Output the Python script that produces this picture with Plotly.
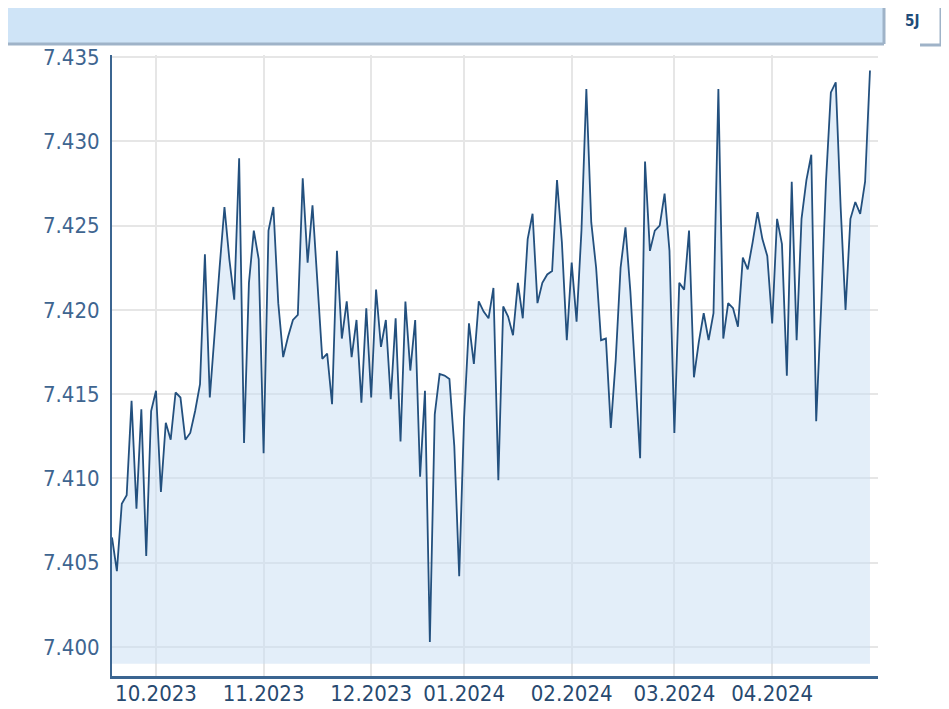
import pandas as pd
import plotly.graph_objects as go

# ---- data ----
START = "2023-09-19"
END = "2024-04-30"
HOLIDAYS = ["2023-12-25", "2023-12-26", "2024-01-01", "2024-03-29", "2024-04-01"]

values = [
    7.4065, 7.4045, 7.4085, 7.4090, 7.4146, 7.4082, 7.4141, 7.4054, 7.4140, 7.4152,
    7.4092, 7.4133, 7.4123, 7.4151, 7.4148, 7.4123, 7.4127, 7.4140, 7.4156, 7.4233,
    7.4148, 7.4189, 7.4225, 7.4261, 7.4230, 7.4206, 7.4290, 7.4121, 7.4216, 7.4247,
    7.4230, 7.4115, 7.4247, 7.4261, 7.4204, 7.4172, 7.4184, 7.4194, 7.4197, 7.4278,
    7.4228, 7.4262, 7.4216, 7.4171, 7.4174, 7.4144, 7.4235, 7.4183, 7.4205, 7.4172,
    7.4194, 7.4145, 7.4201, 7.4148, 7.4212, 7.4178, 7.4194, 7.4147, 7.4195, 7.4122,
    7.4205, 7.4164, 7.4194, 7.4101, 7.4152, 7.4003, 7.4138, 7.4162, 7.4161, 7.4159,
    7.4119, 7.4042, 7.4136, 7.4192, 7.4168, 7.4205, 7.4199, 7.4195, 7.4213, 7.4099,
    7.4202, 7.4196, 7.4185, 7.4216, 7.4195, 7.4242, 7.4257, 7.4204, 7.4216, 7.4221,
    7.4223, 7.4277, 7.4240, 7.4182, 7.4228, 7.4193, 7.4247, 7.4331, 7.4252, 7.4225,
    7.4182, 7.4183, 7.4130, 7.4170, 7.4225, 7.4249, 7.4211, 7.4163, 7.4112, 7.4288,
    7.4235, 7.4247, 7.4250, 7.4269, 7.4235, 7.4127, 7.4216, 7.4212, 7.4247, 7.4160,
    7.4181, 7.4198, 7.4182, 7.4198, 7.4331, 7.4183, 7.4204, 7.4201, 7.4190, 7.4231,
    7.4224, 7.4240, 7.4258, 7.4242, 7.4232, 7.4192, 7.4254, 7.4239, 7.4161, 7.4276,
    7.4182, 7.4254, 7.4277, 7.4292, 7.4134, 7.4201, 7.4276, 7.4329, 7.4335, 7.4261,
    7.4200, 7.4254, 7.4264, 7.4257, 7.4276, 7.4342,
]

tick_months = ["2023-10", "2023-11", "2023-12", "2024-01", "2024-02", "2024-03", "2024-04"]
tick_labels = ["10.2023", "11.2023", "12.2023", "01.2024", "02.2024", "03.2024", "04.2024"]
y_ticks = [7.400, 7.405, 7.410, 7.415, 7.420, 7.425, 7.430, 7.435]
FILL_BASE = 7.399

# trading days (weekdays without holidays) used as categories
dates = [d.strftime("%Y-%m-%d") for d in pd.bdate_range(START, END)
         if d.strftime("%Y-%m-%d") not in HOLIDAYS]
assert len(dates) == len(values), (len(dates), len(values))

tick_vals = [next(d for d in dates if d.startswith(m)) for m in tick_months]

FONT = "DejaVu Sans Condensed, DejaVu Sans, Liberation Sans, sans-serif"

fig = go.Figure()
fig.add_trace(go.Scatter(
    x=dates, y=[FILL_BASE] * len(dates), mode="lines",
    line=dict(width=0, color="rgba(0,0,0,0)"), hoverinfo="skip", showlegend=False,
))
fig.add_trace(go.Scatter(
    x=dates, y=values, mode="lines",
    line=dict(color="#23507e", width=1.8),
    fill="tonexty", fillcolor="rgba(199,221,243,0.5)",
    showlegend=False,
))

# page has an 8px body margin; figure placed to fit the 949x709 window
PAGE_OFF = 8
L, R, T, B = 112, 878, 55, 676          # plot area in page pixels
FIG_W, FIG_H = 949 - 2 * PAGE_OFF, 709 - PAGE_OFF

fig.update_layout(
    width=FIG_W, height=FIG_H, autosize=False,
    margin=dict(l=L - PAGE_OFF, r=FIG_W - (R - PAGE_OFF), t=T - PAGE_OFF,
                b=FIG_H - (B - PAGE_OFF), pad=0),
    paper_bgcolor="white", plot_bgcolor="white",
    font=dict(family=FONT),
    xaxis=dict(
        type="category", range=[0, len(dates) - 1 + 1.64],
        tickmode="array", tickvals=tick_vals, ticktext=tick_labels,
        showgrid=True, gridcolor="#e6e6e6", gridwidth=2,
        showline=True, linecolor="#3b6591", linewidth=3,
        ticks="", ticklabelstandoff=-4,
        tickfont=dict(size=22, color="#27496f", family=FONT),
        zeroline=False, automargin=False,
    ),
    yaxis=dict(
        range=[7.39828, 7.43512],
        tickmode="array", tickvals=y_ticks, ticktext=[f"{v:.3f}" for v in y_ticks],
        showgrid=True, gridcolor="#e6e6e6", gridwidth=2,
        showline=True, linecolor="#3b6591", linewidth=2,
        ticks="", ticklabelstandoff=6,
        tickfont=dict(size=22, color="#3e6590", family=FONT),
        zeroline=False, automargin=False,
    ),
)

# header bar and tab (page pixel -> paper coordinates)
def px(xp):
    return (xp - L) / (R - L)
def py(yp):
    return (B - yp) / (B - T)

BORDER = "#9fb3c8"
fig.add_shape(type="rect", xref="paper", yref="paper",
              x0=px(7), x1=px(884), y0=py(44), y1=py(3),
              fillcolor="#cfe4f7", line=dict(width=0), layer="above")
fig.add_shape(type="line", xref="paper", yref="paper",
              x0=px(7), x1=px(884), y0=py(44), y1=py(44),
              line=dict(color=BORDER, width=3), layer="above")
fig.add_shape(type="rect", xref="paper", yref="paper",
              x0=px(884), x1=px(941), y0=py(44), y1=py(4),
              fillcolor="white", line=dict(width=0), layer="above")
fig.add_shape(type="path", xref="paper", yref="paper",
              path=f"M {px(884)},{py(44)} L {px(884)},{py(4)} L {px(941)},{py(4)} L {px(941)},{py(45)} L {px(920)},{py(45)}",
              line=dict(color=BORDER, width=3), layer="above")
fig.add_annotation(xref="paper", yref="paper", x=px(912), y=py(21),
                   text="<b>5J</b>", showarrow=False,
                   font=dict(size=15, color="#1f4c7a", family=FONT),
                   xanchor="center", yanchor="middle")

fig.write_html("out.html")
